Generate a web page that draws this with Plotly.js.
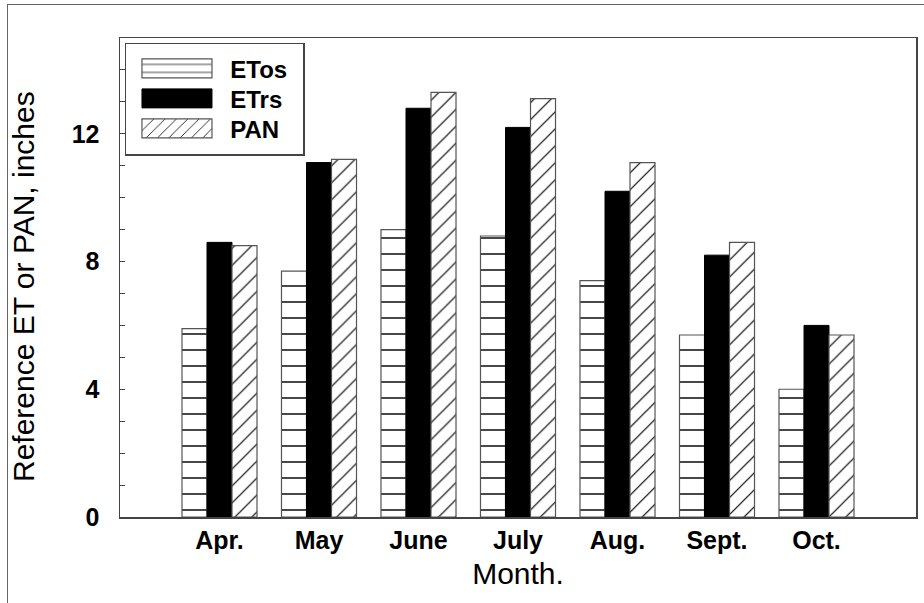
<!DOCTYPE html>
<html>
<head>
<meta charset="utf-8">
<script src="https://cdn.plot.ly/plotly-3.0.1.min.js"></script>
<style>
  html, body { margin: 0; padding: 0; background: #fff; overflow: hidden; }
  #wrap { position: relative; width: 924px; height: 603px; }
  #chart { position: absolute; left: 0; top: 0; width: 924px; height: 603px; }
  #frame { position: absolute; left: 7px; top: 4px; width: 930px; height: 610px;
           border-left: 1.5px solid #666; border-top: 1.5px solid #666; pointer-events: none; }
</style>
</head>
<body>
<div id="wrap">
  <div id="chart"></div>
  <div id="frame"></div>
</div>
<script>
// ---- data ----
var months = ["Apr.", "May", "June", "July", "Aug.", "Sept.", "Oct."];
var etos   = [5.9, 7.7, 9.0, 8.8, 7.4, 5.7, 4.0];
var etrs   = [8.6, 11.1, 12.8, 12.2, 10.2, 8.2, 6.0];
var pan    = [8.5, 11.2, 13.3, 13.1, 11.1, 8.6, 5.7];
var seriesNames = ["ETos", "ETrs", "PAN"];
var yTickVals = [0, 4, 8, 12];
var yTickText = ["0", "4", "8", "12"];
var xTitle = "Month.";
var yTitle = "Reference ET or PAN, inches";

var FONT = "Liberation Sans, Arial, Helvetica, sans-serif";

var traces = [
  {
    type: "bar", name: seriesNames[0], x: months, y: etos,
    marker: {
      color: "white",
      line: { color: "#555", width: 1.2 },
      pattern: { shape: "-", size: 16, solidity: 0.09, fgcolor: "black", bgcolor: "white" }
    }
  },
  {
    type: "bar", name: seriesNames[1], x: months, y: etrs,
    marker: { color: "black", line: { color: "black", width: 1 } }
  },
  {
    type: "bar", name: seriesNames[2], x: months, y: pan,
    marker: {
      color: "white",
      line: { color: "#555", width: 1.2 },
      pattern: { shape: "/", size: 12, solidity: 0.1, fgcolor: "black", bgcolor: "white" }
    }
  }
];

var layout = {
  width: 924, height: 603,
  margin: { l: 120, r: 8, t: 38, b: 86 },
  paper_bgcolor: "white", plot_bgcolor: "white",
  font: { family: FONT, color: "black" },
  barmode: "group",
  bargap: 0.246,
  bargroupgap: 0,
  showlegend: true,
  legend: {
    x: 0.006, y: 0.99, xanchor: "left", yanchor: "top",
    bgcolor: "white", bordercolor: "#444", borderwidth: 1.5,
    font: { family: FONT, size: 24, weight: "bold", color: "black" },
    itemwidth: 94, tracegroupgap: 0, traceorder: "normal"
  },
  xaxis: {
    type: "category",
    range: [-1, 7],
    showgrid: false, zeroline: false,
    showline: true, linecolor: "#444", linewidth: 1.5, mirror: true,
    ticks: "",
    tickfont: { family: FONT, size: 25, weight: "bold", color: "black" },
    title: { text: xTitle, font: { family: FONT, size: 30, color: "black" }, standoff: 10 }
  },
  yaxis: {
    range: [0, 15],
    showgrid: false, zeroline: false,
    showline: true, linecolor: "#444", linewidth: 1.5, mirror: true,
    ticks: "inside", ticklen: 5, tickcolor: "#444", tickwidth: 1,
    tickvals: yTickVals, ticktext: yTickText,
    ticklabelstandoff: 14,
    minor: { dtick: 1, ticks: "inside", ticklen: 5, tickcolor: "#444", tickwidth: 1, showgrid: false },
    tickfont: { family: FONT, size: 25, weight: "bold", color: "black" }
  },
  annotations: [
    {
      text: yTitle, textangle: -90,
      xref: "paper", yref: "paper", x: -0.122, y: 0.482,
      xanchor: "center", yanchor: "middle", showarrow: false,
      font: { family: FONT, size: 30, color: "black" }
    }
  ]
};

Plotly.newPlot("chart", traces, layout, { displayModeBar: false, staticPlot: true }).then(function () {
  // long legend swatches like the reference
  document.querySelectorAll(".legend .legendpoints path").forEach(function (p) {
    p.setAttribute("d", "M33.7,9.5H-36.3V-9.5H33.7Z");
  });
  // tighter row spacing and a wider box, as in the reference legend
  var items = document.querySelectorAll(".legend g.traces");
  var y0 = null;
  items.forEach(function (g, i) {
    var t = g.getAttribute("transform") || "";
    var m = /translate\(\s*([-\d.]+)[ ,]+([-\d.]+)\s*\)/.exec(t);
    if (!m) return;
    var x = parseFloat(m[1]), y = parseFloat(m[2]);
    if (y0 === null) y0 = y;
    g.setAttribute("transform", "translate(" + x + "," + (y0 + 2 + i * 30) + ")");
  });
  var bg = document.querySelector(".legend rect.bg");
  if (bg) { bg.setAttribute("width", 178.5); bg.setAttribute("height", 111.5); }
});
</script>
</body>
</html>
